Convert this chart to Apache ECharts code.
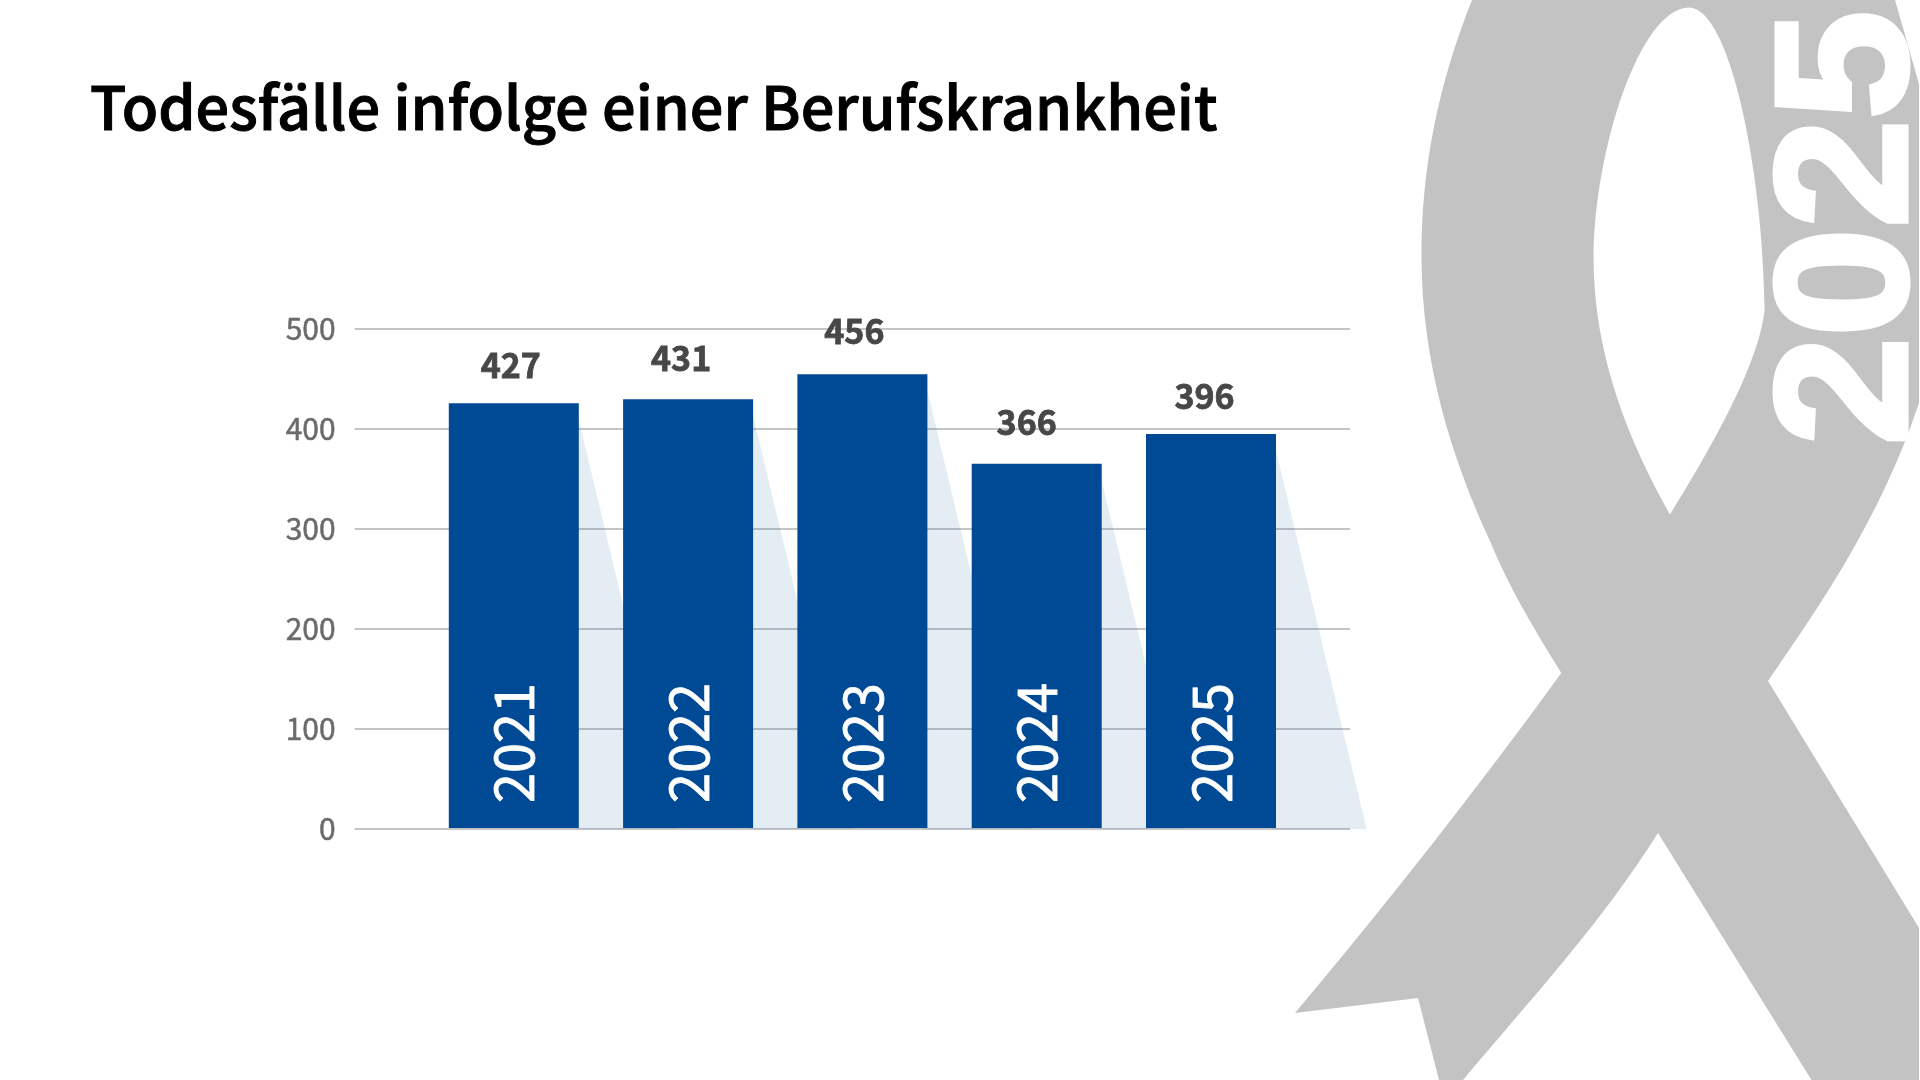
<!DOCTYPE html>
<html lang="de">
<head>
<meta charset="utf-8">
<title>Todesfälle infolge einer Berufskrankheit</title>
<style>html,body{margin:0;padding:0;background:#fff}#chart{width:1920px;height:1080px}</style>
<script src="https://cdn.jsdelivr.net/npm/echarts@6/dist/echarts.min.js"></script>
</head>
<body>
<div id="chart"></div>
<script>
const titleText = 'Todesfälle infolge einer Berufskrankheit';
const years = ['2021', '2022', '2023', '2024', '2025'];
const deaths = [427, 431, 456, 366, 396];
const yTicks = [0, 100, 200, 300, 400, 500];
const ribbonYear = '2025';

const font = '"Noto Sans CJK SC", "Noto Sans", sans-serif';
const BAR_WIDTH = 130;
const labelNudges = [[-3, -16], [-7, -19], [-8, -21], [-10, -20], [-6.5, -16]];

// Awareness ribbon outline; the loop opening is wound against it so it stays empty.
const ribbonPath =
  'M1472 0 C1438 85 1421 170 1421.5 259 C1422 360 1450 455 1490 541 C1510 590 1535 630 1561.3 673 ' +
  'C1480 785 1390 900 1295 1013 L1418 998 L1439 1080 L1463 1080 C1530 1000 1600 925 1658 833 ' +
  'L1811.5 1080 L1919 1080 L1919 928 L1768 681 C1820 605 1880 520 1919 403 L1919 84 L1895 0 Z ' +
  'M1689 7.6 C1730 8 1763 170 1764.6 310 C1760 350 1735 410 1670 514.5 ' +
  'C1640 460 1594 370 1593.6 259 C1594 150 1640 8 1689 7.6 Z';

const chart = echarts.init(document.getElementById('chart'), null, { renderer: 'canvas' });

chart.setOption({
  animation: false,
  backgroundColor: '#fff',
  title: {
    text: titleText,
    left: 85,
    top: 73,
    textStyle: {
      fontFamily: font, fontSize: 59.4, fontWeight: 500, color: '#000',
      textBorderColor: '#000', textBorderWidth: 1
    }
  },
  grid: [
    // Plot for the scale and its gridlines, which run wider than the bars.
    { left: 354.6, right: 570, top: 329, bottom: 251 },
    // Plot for the bars and their slanted shadows.
    { left: 426.65, width: 871.5, top: 330.5, bottom: 252 }
  ],
  xAxis: [
    { gridIndex: 0, type: 'category', data: years, show: false },
    {
      gridIndex: 1, type: 'category', data: years, z: 10,
      axisLine: { show: false }, axisTick: { show: false },
      axisLabel: {
        inside: true, rotate: 90, margin: 25, interval: 0,
        fontFamily: font, fontSize: 54, color: '#fff',
        textBorderColor: '#fff', textBorderWidth: 0.8
      }
    }
  ],
  yAxis: [
    {
      gridIndex: 0, type: 'value', min: yTicks[0], max: yTicks[yTicks.length - 1], interval: 100,
      axisLine: { show: false }, axisTick: { show: false },
      axisLabel: {
        margin: 19, fontFamily: font, fontSize: 30, color: '#6b6b6b',
        textBorderColor: '#6b6b6b', textBorderWidth: 0.5
      },
      splitLine: { lineStyle: { color: '#c4c5c9', width: 2 } }
    },
    {
      gridIndex: 1, type: 'value', min: yTicks[0], max: yTicks[yTicks.length - 1], interval: 100,
      show: false, splitLine: { show: false }
    }
  ],
  series: [
    {
      // Grey ribbon with the year running up its right-hand side.
      type: 'custom', coordinateSystem: 'none', z: 0, silent: true, clip: false,
      data: [[0]],
      renderItem() {
        return {
          type: 'group',
          children: [
            { type: 'path', shape: { pathData: ribbonPath }, style: { fill: '#c3c3c3' } },
            {
              type: 'text', x: 1854, y: 228, rotation: Math.PI / 2, scaleX: 1.04,
              style: {
                text: ribbonYear, fill: '#fff', stroke: '#fff', lineWidth: 5,
                align: 'center', verticalAlign: 'middle',
                font: 'bold 188px "Liberation Sans", Arial, sans-serif'
              }
            }
          ]
        };
      }
    },
    {
      // Triangular shadow falling to the right behind each bar.
      type: 'custom', xAxisIndex: 1, yAxisIndex: 1, z: 1, silent: true, clip: false,
      data: deaths.map((v, i) => [i, v]),
      renderItem(params, api) {
        const top = api.coord([api.value(0), api.value(1)]);
        const base = api.coord([api.value(0), 0]);
        const edge = top[0] + BAR_WIDTH / 2 - 4;
        const reach = (base[1] - top[1]) * 0.24;
        return {
          type: 'polygon',
          shape: { points: [[edge, top[1]], [edge + reach, base[1] + 1], [edge, base[1] + 1]] },
          style: { fill: 'rgba(0,73,148,0.105)' }
        };
      }
    },
    {
      type: 'bar', xAxisIndex: 1, yAxisIndex: 1, z: 2, barWidth: BAR_WIDTH,
      itemStyle: { color: '#004994' },
      data: deaths.map((v, i) => ({
        value: v,
        label: {
          show: true, position: 'top', offset: labelNudges[i],
          fontFamily: font, fontSize: 34, fontWeight: 700, color: '#474747',
          textBorderColor: '#474747', textBorderWidth: 0.8
        }
      }))
    },
    // Carries the upper axis pair so its scale and gridlines are drawn.
    { type: 'line', xAxisIndex: 0, yAxisIndex: 0, data: [], silent: true }
  ]
});
</script>
</body>
</html>
